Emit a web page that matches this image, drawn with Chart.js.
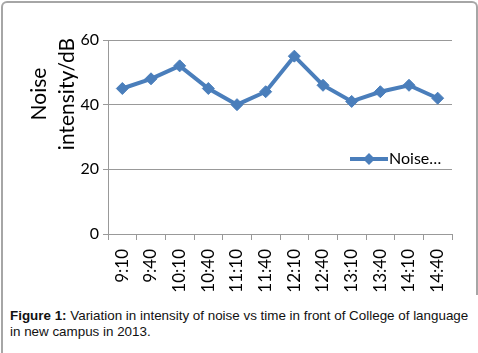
<!DOCTYPE html>
<html>
<head>
<meta charset="utf-8">
<script src="https://cdn.jsdelivr.net/npm/chart.js@4"></script>
<style>
    html, body { margin: 0; padding: 0; background: #fff; }
    #wrap { position: relative; width: 478px; height: 353px; overflow: hidden; }
    #frame {
        position: absolute; left: 1px; top: 1px; width: 473px; height: 292px;
        border: 2px solid #a6a6a6; border-bottom: none; border-radius: 6px 6px 0 0;
    }
    #leftline { position: absolute; left: 1px; top: 290px; width: 2px; height: 63px; background: #a6a6a6; }
    #box { position: absolute; left: 0; top: 0; width: 478px; height: 300px; }
    #caption {
        position: absolute; left: 10px; top: 308px; width: 470px;
        font-family: "Liberation Sans", Arial, sans-serif; font-size: 13.4px; line-height: 16px; color: #111;
    }
</style>
</head>
<body>
<div id="wrap">
    <div id="frame"></div>
    <div id="leftline"></div>
    <div id="box"><canvas id="noise-chart" width="478" height="300"></canvas></div>
    <div id="caption"><b>Figure 1:</b> Variation in intensity of noise vs time in front of College of language<br>in new campus in 2013.</div>
</div>
<script>
const times = ['9:10', '9:40', '10:10', '10:40', '11:10', '11:40', '12:10', '12:40', '13:10', '13:40', '14:10', '14:40'];
const noise = [45, 48, 52, 45, 40, 44, 55, 46, 41, 44, 46, 42];
const yTicks = [0, 20, 40, 60];
const yTitle = ['Noise', 'intensity/dB'];

const lineColor = '#4a7ebb';
const gridColor = '#999999';
const fontFamily = 'Lato, "Open Sans", sans-serif';

// legend drawn inside the plot, like the Excel original
const insideLegend = {
    id: 'insideLegend',
    afterDraw(chart) {
        const ctx = chart.ctx;
        const area = chart.chartArea;
        const x = area.right - 102;
        const y = area.top + 119;
        ctx.save();
        ctx.strokeStyle = lineColor;
        ctx.lineWidth = 4;
        ctx.beginPath();
        ctx.moveTo(x, y);
        ctx.lineTo(x + 38, y);
        ctx.stroke();
        ctx.fillStyle = lineColor;
        ctx.beginPath();
        ctx.moveTo(x + 19, y - 6);
        ctx.lineTo(x + 25, y);
        ctx.lineTo(x + 19, y + 6);
        ctx.lineTo(x + 13, y);
        ctx.closePath();
        ctx.fill();
        ctx.fillStyle = '#000';
        ctx.font = '16px ' + fontFamily;
        ctx.textBaseline = 'middle';
        ctx.fillText('Noise…', x + 39, y);
        ctx.restore();
    }
};

// y axis title, two centred lines sitting a bit above the middle
const yTitlePlugin = {
    id: 'yTitlePlugin',
    afterDraw(chart) {
        const ctx = chart.ctx;
        const area = chart.chartArea;
        ctx.save();
        ctx.translate(53, area.top + 54);
        ctx.rotate(-Math.PI / 2);
        ctx.fillStyle = '#000';
        ctx.font = '21px ' + fontFamily;
        ctx.textAlign = 'center';
        ctx.textBaseline = 'middle';
        ctx.fillText(yTitle[0], 0, -14);
        ctx.fillText(yTitle[1], 0, 14);
        ctx.restore();
    }
};

const ctx = document.getElementById('noise-chart').getContext('2d');
new Chart(ctx, {
    type: 'line',
    data: {
        labels: times,
        datasets: [{
            label: 'Noise intensity/dB',
            data: noise,
            borderColor: lineColor,
            backgroundColor: lineColor,
            borderWidth: 4,
            pointStyle: 'rectRot',
            pointRadius: 6,
            pointBorderWidth: 1,
            tension: 0,
            fill: false,
        }]
    },
    options: {
        responsive: false,
        animation: false,
        layout: { padding: { left: 0, top: 40, right: 26, bottom: 0 } },
        plugins: {
            legend: { display: false },
            tooltip: { enabled: false },
        },
        scales: {
            x: {
                offset: true,
                grid: {
                    offset: true,
                    drawOnChartArea: false,
                    drawTicks: true,
                    tickLength: 6,
                    color: gridColor,
                },
                border: { display: true, color: gridColor, width: 1 },
                ticks: {
                    color: '#000',
                    minRotation: 90,
                    maxRotation: 90,
                    padding: 9,
                    font: { family: fontFamily, size: 17 },
                },
                afterFit(scale) { scale.height = 66; },
            },
            y: {
                min: 0,
                max: 60,
                afterBuildTicks(scale) { scale.ticks = yTicks.map(v => ({ value: v })); },
                grid: { color: gridColor, tickLength: 5, lineWidth: 1 },
                border: { display: true, color: gridColor, width: 1 },
                ticks: {
                    color: '#000',
                    padding: 4,
                    font: { family: fontFamily, size: 16 },
                },
                afterFit(scale) { scale.width = 108; },
            }
        }
    },
    plugins: [insideLegend, yTitlePlugin]
});
</script>
</body>
</html>
